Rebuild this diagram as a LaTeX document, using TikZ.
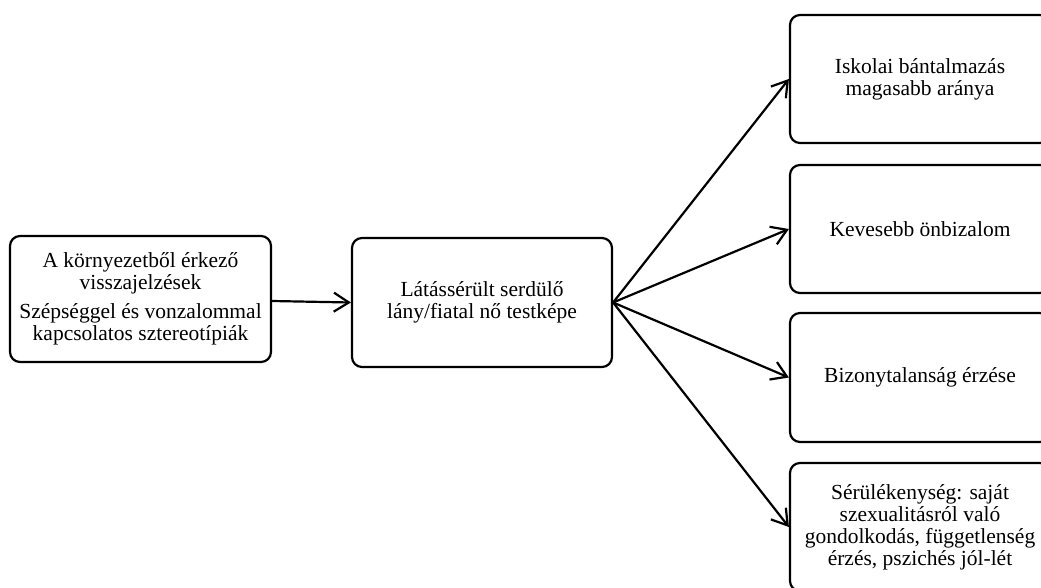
\documentclass[tikz,border=0pt]{standalone}
\usepackage{fontspec}
\setmainfont{Liberation Serif}
\usetikzlibrary{arrows.meta}
\begin{document}
\begin{tikzpicture}[x=1pt,y=-1pt,
  box/.style={draw=black,line width=2.2pt,rounded corners=10pt,fill=white,align=center,inner sep=0pt,
    font=\fontsize{21.5}{22}\selectfont},
  conn/.style={line width=2.2pt,-{Straight Barb[length=15pt,width=19pt,line width=2.2pt]}}]
\useasboundingbox (0,0) rectangle (1041,588);
\clip (0,0) rectangle (1041,588);
\node[box,minimum width=261pt,minimum height=126pt] (src) at (140.5,299) {A környezetből érkező\\visszajelzések\\[7pt]Szépséggel és vonzalommal\\kapcsolatos sztereotípiák};
\node[box,minimum width=260pt,minimum height=129pt] (mid) at (482,302.5) {Látássérült serdülő\\lány/fiatal nő testképe};
\node[box,minimum width=260pt,minimum height=128pt] (r1) at (920,79) {Iskolai bántalmazás\\magasabb aránya};
\node[box,minimum width=260pt,minimum height=128pt] (r2) at (920,229) {Kevesebb önbizalom};
\node[box,minimum width=260pt,minimum height=129pt] (r3) at (920,377.5) {Bizonytalanság érzése};
\node[box,minimum width=260pt,minimum height=128pt] (r4) at (920,527) {Sérülékenység: saját\\szexualitásról való\\gondolkodás, függetlenség\\érzés, pszichés jól-lét};
\draw[conn] ([yshift=-2pt]src.east) -- (mid.west);
\draw[conn] (mid.east) -- (r1.west);
\draw[conn] (mid.east) -- (r2.west);
\draw[conn] (mid.east) -- (r3.west);
\draw[conn] (mid.east) -- (r4.west);
\end{tikzpicture}
\end{document}
